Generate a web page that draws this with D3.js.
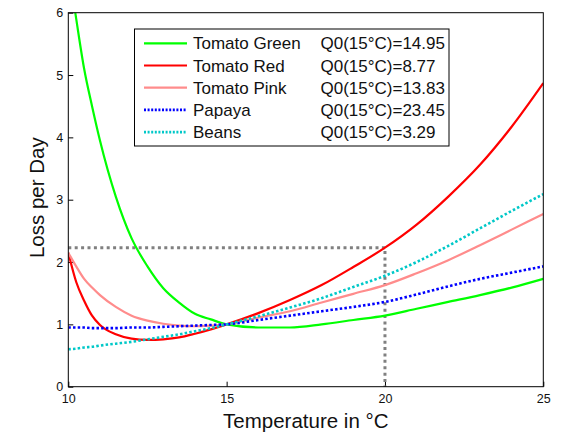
<!DOCTYPE html>
<html>
<head>
<meta charset="utf-8">
<script src="https://cdn.jsdelivr.net/npm/d3@7"></script>
<style>
  body { margin: 0; background: #fff; }
  svg { display: block; font-family: "Liberation Sans", Arial, sans-serif; }
</style>
</head>
<body>
<div id="chart"></div>
<script>

var temps = [10, 10.25, 10.5, 10.75, 11, 11.5, 12, 12.5, 13, 13.5, 14, 14.5, 15,
  16, 17, 18, 19, 20, 21, 22, 23, 24, 25];

var tomatoGreen = [6.75, 5.9, 5.1, 4.5, 3.95, 3.05, 2.38, 1.93, 1.58, 1.35, 1.17, 1.08, 1.0,
  0.95, 0.95, 1.0, 1.07, 1.14, 1.25, 1.36, 1.47, 1.59, 1.73];
var tomatoRed = [2.15, 1.68, 1.38, 1.14, 0.99, 0.84, 0.77, 0.75, 0.76, 0.79, 0.85, 0.92, 1.0,
  1.18, 1.39, 1.63, 1.92, 2.23, 2.6, 3.05, 3.56, 4.17, 4.87];
var tomatoPink = [2.15, 1.93, 1.73, 1.59, 1.47, 1.28, 1.14, 1.06, 1.01, 0.98, 0.97, 0.98, 1.0,
  1.11, 1.21, 1.35, 1.49, 1.63, 1.82, 2.03, 2.27, 2.52, 2.77];
var papaya = [0.95, 0.95, 0.95, 0.94, 0.94, 0.94, 0.95, 0.95, 0.96, 0.97, 0.98, 0.99, 1.0,
  1.07, 1.14, 1.21, 1.28, 1.36, 1.48, 1.61, 1.73, 1.83, 1.93];
var beans = [0.6, 0.61, 0.63, 0.64, 0.66, 0.69, 0.72, 0.76, 0.8, 0.84, 0.89, 0.94, 1.0,
  1.13, 1.27, 1.42, 1.6, 1.78, 2.0, 2.26, 2.54, 2.82, 3.09];

var seriesNames = ["Tomato Green", "Tomato Red", "Tomato Pink", "Papaya", "Beans"];
var q0Labels = ["Q0(15°C)=14.95", "Q0(15°C)=8.77", "Q0(15°C)=13.83", "Q0(15°C)=23.45", "Q0(15°C)=3.29"];

var xTicks = [10, 15, 20, 25];
var yTicks = [0, 1, 2, 3, 4, 5, 6];

// reference point marked by the grey dotted guide
var refTemp = 20;
var refLoss = 2.23;

var styles = [
  {color: "#00ff00", dash: null, width: 2.2},
  {color: "#ff0000", dash: null, width: 2.2},
  {color: "#ff8c8c", dash: null, width: 2.2},
  {color: "#0000ff", dash: "2.5,2.2", width: 2.6},
  {color: "#00c8c8", dash: "2.5,2.2", width: 2.6}
];

var allValues = [tomatoGreen, tomatoRed, tomatoPink, papaya, beans];

var W = 564, H = 434;
var margin = {left: 68.3, top: 12.7, right: 20.7, bottom: 47.3};
var w = W - margin.left - margin.right,
  h = H - margin.top - margin.bottom;

var svg = d3.select("#chart").append("svg")
  .attr("width", W)
  .attr("height", H);

var g = svg.append("g")
  .attr("transform", "translate(" + margin.left + "," + margin.top + ")");

var x = d3.scaleLinear().domain([10, 25]).range([0, w]);
var y = d3.scaleLinear().domain([0, 6]).range([h, 0]);

g.append("rect")
  .attr("width", w)
  .attr("height", h)
  .attr("fill", "#fff");

g.append("clipPath").attr("id", "plot-clip")
  .append("rect")
  .attr("width", w)
  .attr("height", h);

// axes, ticks pointing inward like matlab
var xAxis = d3.axisBottom(x).tickValues(xTicks).tickSize(-5).tickPadding(7.5).tickFormat(d3.format("d"));
var yAxis = d3.axisLeft(y).tickValues(yTicks).tickSize(-5).tickPadding(5).tickFormat(d3.format("d"));

var gx = g.append("g")
  .attr("transform", "translate(0," + h + ")")
  .call(xAxis);
var gy = g.append("g").call(yAxis);

[gx, gy].forEach(function(a) {
  a.select(".domain").remove();
  a.selectAll("line").attr("stroke", "#000");
  a.selectAll("text")
    .attr("fill", "#111")
    .style("font-size", "12.5px")
    .style("font-family", "'Liberation Sans', Arial, sans-serif");
});

// grey dotted guide lines
g.append("path")
  .attr("d", "M" + x(10) + "," + y(refLoss) + "H" + x(refTemp) + "V" + y(0))
  .attr("fill", "none")
  .attr("stroke", "#808080")
  .attr("stroke-width", 3)
  .attr("stroke-dasharray", "3,3.4");

var line = d3.line()
  .x(function(d) { return x(d[0]); })
  .y(function(d) { return y(d[1]); })
  .curve(d3.curveMonotoneX);

var plotLines = g.append("g").attr("clip-path", "url(#plot-clip)");

plotLines.selectAll("path")
  .data(allValues)
  .enter()
  .append("path")
  .attr("d", function(vals) {
    return line(temps.map(function(t, i) { return [t, vals[i]]; }));
  })
  .attr("fill", "none")
  .attr("stroke", function(d, i) { return styles[i].color; })
  .attr("stroke-width", function(d, i) { return styles[i].width; })
  .attr("stroke-dasharray", function(d, i) { return styles[i].dash; });

// frame
g.append("rect")
  .attr("width", w)
  .attr("height", h)
  .attr("fill", "none")
  .attr("stroke", "#000")
  .attr("stroke-width", 1);

// legend
var legend = svg.append("g").attr("transform", "translate(134.5,29)");

legend.append("rect")
  .attr("width", 314.5)
  .attr("height", 117)
  .attr("fill", "#fff")
  .attr("stroke", "#000")
  .attr("stroke-width", 1);

var rows = legend.selectAll("g.row")
  .data(seriesNames)
  .enter()
  .append("g")
  .attr("class", "row")
  .attr("transform", function(d, i) { return "translate(0," + (14.3 + i * 22.2) + ")"; });

rows.append("line")
  .attr("x1", 9.5)
  .attr("x2", 52.5)
  .attr("stroke", function(d, i) { return styles[i].color; })
  .attr("stroke-width", function(d, i) { return styles[i].width; })
  .attr("stroke-dasharray", function(d, i) { return styles[i].dash ? "2,1.6" : null; });

rows.append("text")
  .attr("x", 58.5)
  .attr("y", 6)
  .style("font-size", "17px")
  .attr("fill", "#111")
  .text(function(d) { return d; });

rows.append("text")
  .attr("x", 186)
  .attr("y", 6)
  .style("font-size", "17px")
  .attr("fill", "#111")
  .text(function(d, i) { return q0Labels[i]; });

// axis titles
svg.append("text")
  .attr("x", margin.left + w / 2)
  .attr("y", 427.5)
  .attr("text-anchor", "middle")
  .style("font-size", "20.5px")
  .attr("fill", "#111")
  .text("Temperature in °C");

svg.append("text")
  .attr("transform", "translate(43.5," + (margin.top + h / 2 - 2) + ") rotate(-90)")
  .attr("text-anchor", "middle")
  .style("font-size", "20.5px")
  .attr("fill", "#111")
  .text("Loss per Day");

</script>
</body>
</html>
